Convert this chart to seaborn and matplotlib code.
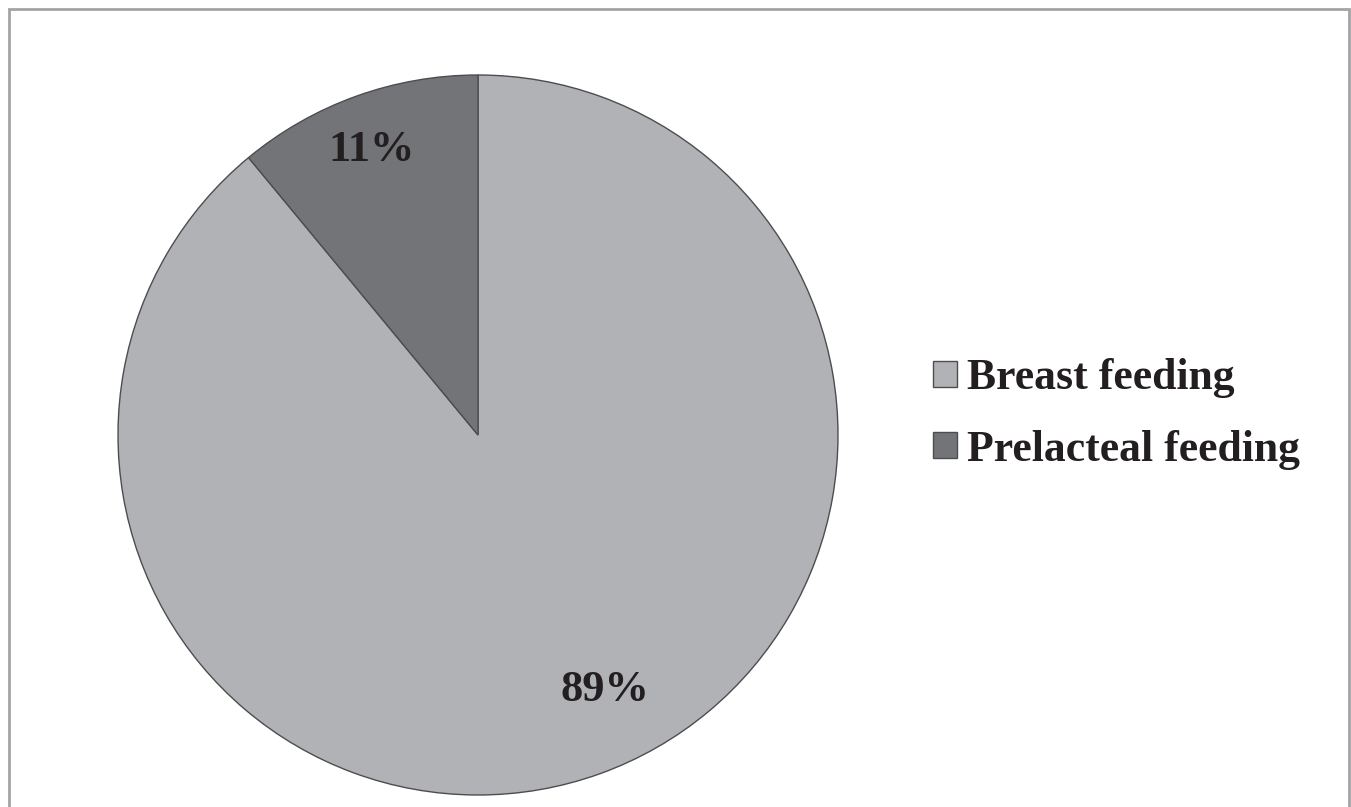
import matplotlib
matplotlib.use("Agg")
import matplotlib.pyplot as plt
from matplotlib.patches import Rectangle
import seaborn as sns

# Feeding practice shares (percent)
categories = ["Breast feeding", "Prelacteal feeding"]
shares = [89, 11]
colors = ["#b1b2b6", "#737478"]

sns.set_theme(style="white")
plt.rcParams["font.family"] = ["Liberation Serif", "DejaVu Serif"]

W, H = 1351, 807
fig = plt.figure(figsize=(W / 100, H / 100), dpi=100)
ax = fig.add_axes([0, 0, 1, 1])

cx, cy, r = 478, H - 435, 360
wedges, texts, autotexts = ax.pie(
    shares,
    colors=colors,
    startangle=90,
    counterclock=False,
    center=(cx, cy),
    radius=r,
    autopct=lambda p: f"{p:.0f}%",
    pctdistance=0.83,
    wedgeprops=dict(edgecolor="#4d4d50", linewidth=1.0),
    textprops=dict(fontsize=32, fontweight="bold", color="#231f20"),
    frame=True,
)

# nudge percentage labels into their slices
label_pos = [(605, H - 690), (372, H - 150)]
for t, (x, y) in zip(autotexts, label_pos):
    t.set_position((x, y))
    t.set_ha("center")
    t.set_va("center")

ax.set_xlim(0, W)
ax.set_ylim(0, H)
ax.set_aspect("equal")
ax.axis("off")

# outer chart border
ax.add_patch(Rectangle((8.5, -20), 1340, H - 9 + 20, fill=False,
                       edgecolor="#a3a3a6", linewidth=2, clip_on=False))

leg = ax.legend(
    wedges, categories,
    loc="center left",
    bbox_to_anchor=(933 / W, 1 - 414 / H),
    bbox_transform=fig.transFigure,
    frameon=False,
    prop=dict(family="Liberation Serif", weight="bold", size=31.5),
    handlelength=0.55, handleheight=0.55,
    handletextpad=0.23, labelspacing=0.71,
    borderpad=0, borderaxespad=0,
)
for txt in leg.get_texts():
    txt.set_color("#231f20")

fig.savefig("out.png", dpi=100, facecolor="white")
